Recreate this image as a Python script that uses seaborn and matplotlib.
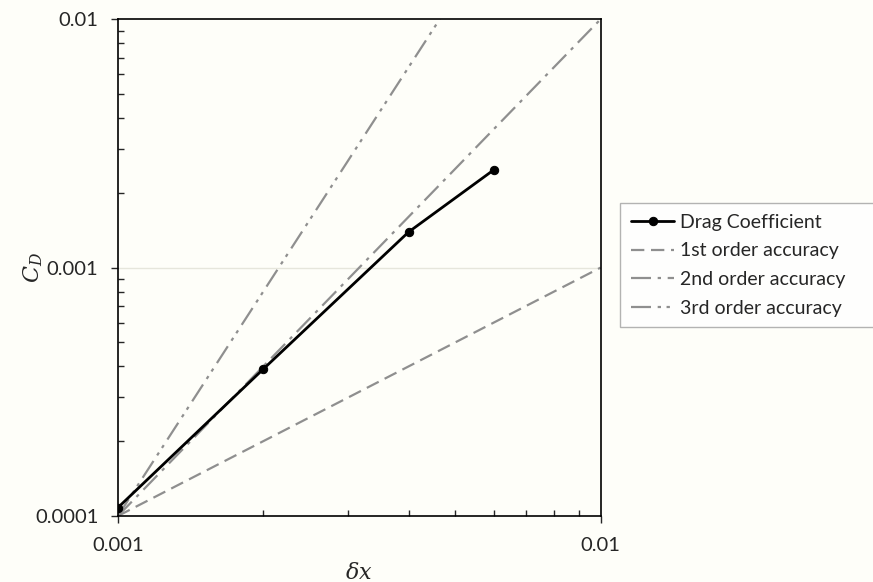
import numpy as np
import pandas as pd
import seaborn as sns
import matplotlib.pyplot as plt
from matplotlib.ticker import LogLocator, NullFormatter, FixedLocator, FixedFormatter

# grid spacing vs drag coefficient
dx = [0.001, 0.002, 0.004, 0.006]
cd = [0.000108, 0.00039, 0.00139, 0.00247]

# reference slopes (end points of each line)
ref_x = [0.001, 0.01]
first_order = [0.0001, 0.001]
second_order = [0.0001, 0.01]
third_order = [0.0001, 0.1]

x_ticks = [0.001, 0.01]
x_labels = ["0.001", "0.01"]
y_ticks = [0.0001, 0.001, 0.01]
y_labels = ["0.0001", "0.001", "0.01"]

sns.set_style("ticks")
plt.rcParams["font.family"] = ["Lato", "DejaVu Sans"]
plt.rcParams["mathtext.fontset"] = "dejavuserif"

fig = plt.figure(figsize=(8.73, 5.82), dpi=100)
fig.patch.set_facecolor("#fefef9")
ax = fig.add_axes([0.135, 0.1134, 0.553, 0.8536])
ax.set_facecolor("#fefef9")

grey = "#8f8f8f"
refs = pd.DataFrame({"x": ref_x * 3,
                     "y": first_order + second_order + third_order,
                     "line": ["1st order accuracy"] * 2 + ["2nd order accuracy"] * 2 + ["3rd order accuracy"] * 2})

styles = {"1st order accuracy": (0, (6, 3)),
          "2nd order accuracy": (0, (9, 3, 1.5, 3)),
          "3rd order accuracy": (0, (9, 3, 1.5, 2.5, 1.5, 3))}

sns.lineplot(x=dx, y=cd, ax=ax, color="black", lw=2, marker="o", markersize=6,
             markeredgecolor="black", label="Drag Coefficient", zorder=5)
for name, grp in refs.groupby("line"):
    sns.lineplot(data=grp, x="x", y="y", ax=ax, color=grey, lw=1.6,
                 linestyle=styles[name], label=name)

ax.set_xscale("log")
ax.set_yscale("log")
ax.set_xlim(0.001, 0.01)
ax.set_ylim(0.0001, 0.01)

ax.axhline(0.001, color="#e6e6dc", lw=1, zorder=0)

ax.xaxis.set_major_locator(FixedLocator(x_ticks))
ax.xaxis.set_major_formatter(FixedFormatter(x_labels))
ax.yaxis.set_major_locator(FixedLocator(y_ticks))
ax.yaxis.set_major_formatter(FixedFormatter(y_labels))
ax.xaxis.set_minor_locator(LogLocator(base=10, subs=np.arange(2, 10)))
ax.yaxis.set_minor_locator(LogLocator(base=10, subs=np.arange(2, 10)))
ax.xaxis.set_minor_formatter(NullFormatter())
ax.yaxis.set_minor_formatter(NullFormatter())
ax.tick_params(which="major", direction="out", length=5, width=1, labelsize=14.5)
ax.tick_params(axis="y", which="major", pad=9)
ax.tick_params(axis="x", which="major", pad=10)
ax.tick_params(which="minor", direction="in", length=4, width=1)

for s in ax.spines.values():
    s.set_color("black")
    s.set_linewidth(1.2)

ax.set_xlabel(r"$\delta x$", fontsize=16)
ax.set_ylabel(r"$C_D$", fontsize=16)
ax.xaxis.set_label_coords(0.5, -0.093)
ax.yaxis.set_label_coords(-0.15, 0.5)

leg = ax.legend(loc="upper left", bbox_to_anchor=(1.041, 0.63, 0.56, 0.0), mode="expand",
                frameon=True, fancybox=False, fontsize=14, handlelength=2.2,
                handletextpad=0.3, labelspacing=0.6, borderpad=0.55, borderaxespad=0)
leg.get_frame().set_edgecolor("#a0a0a0")
leg.get_frame().set_facecolor("white")

fig.savefig("out.png", dpi=100, facecolor=fig.get_facecolor())
